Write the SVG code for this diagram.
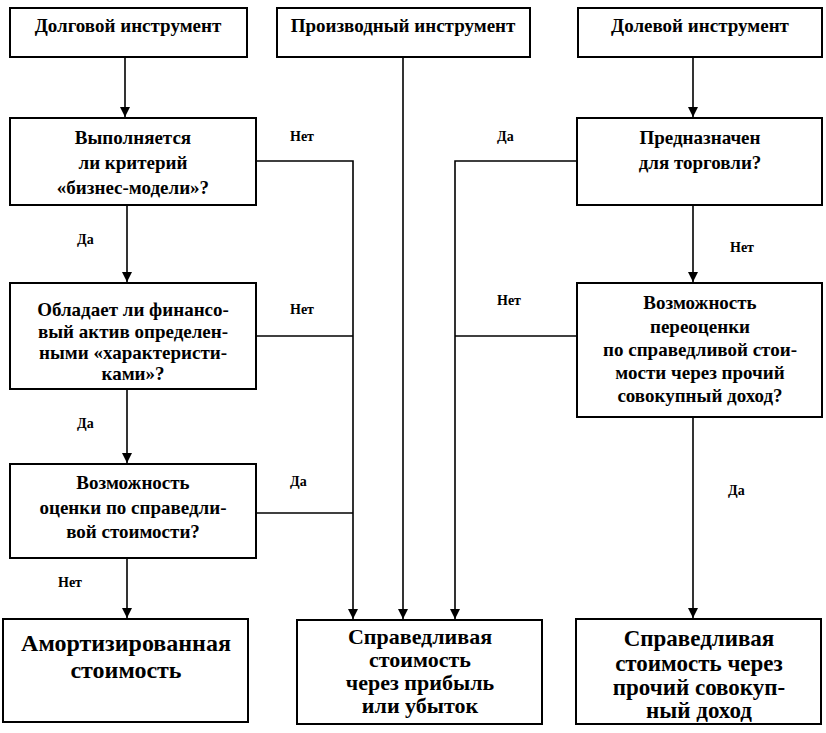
<svg xmlns="http://www.w3.org/2000/svg" width="826" height="733" viewBox="0 0 826 733">
<style>
.box{fill:#fff;stroke:#000;stroke-width:2}
</style>
<defs>
<marker id="ah" viewBox="0 0 10 10" refX="10" refY="5" markerWidth="10" markerHeight="10" markerUnits="userSpaceOnUse" orient="auto">
<path d="M0,0 L10,5 L0,10 z" fill="#000"/>
</marker>
</defs>
<rect width="826" height="733" fill="#fff"/>
<g id="connectors" fill="none" stroke="#000" stroke-width="1.6">
<line x1="125" y1="57" x2="125" y2="117" marker-end="url(#ah)"/>
<line x1="693" y1="57" x2="693" y2="117" marker-end="url(#ah)"/>
<line x1="403" y1="57" x2="403" y2="619" marker-end="url(#ah)"/>
<line x1="127" y1="205" x2="127" y2="282" marker-end="url(#ah)"/>
<line x1="127" y1="389" x2="127" y2="463" marker-end="url(#ah)"/>
<line x1="127" y1="558" x2="127" y2="618" marker-end="url(#ah)"/>
<line x1="693" y1="205" x2="693" y2="282" marker-end="url(#ah)"/>
<line x1="693" y1="417" x2="693" y2="618" marker-end="url(#ah)"/>
<polyline points="256,161 353,161 353,619" marker-end="url(#ah)"/>
<line x1="256" y1="336" x2="353" y2="336"/>
<line x1="256" y1="513" x2="353" y2="513"/>
<polyline points="577,161 455,161 455,619" marker-end="url(#ah)"/>
<line x1="577" y1="336" x2="455" y2="336"/>
</g>
<g id="connector-labels" fill="#000">
<text x="290" y="141" style="font-family:'Liberation Serif',serif;font-weight:700;font-size:14px">Нет</text>
<text x="77" y="244" style="font-family:'Liberation Serif',serif;font-weight:700;font-size:14px">Да</text>
<text x="290" y="314" style="font-family:'Liberation Serif',serif;font-weight:700;font-size:14px">Нет</text>
<text x="77" y="428" style="font-family:'Liberation Serif',serif;font-weight:700;font-size:14px">Да</text>
<text x="290" y="486" style="font-family:'Liberation Serif',serif;font-weight:700;font-size:14px">Да</text>
<text x="58" y="587" style="font-family:'Liberation Serif',serif;font-weight:700;font-size:14px">Нет</text>
<text x="497" y="141" style="font-family:'Liberation Serif',serif;font-weight:700;font-size:14px">Да</text>
<text x="730" y="252" style="font-family:'Liberation Serif',serif;font-weight:700;font-size:14px">Нет</text>
<text x="497" y="305" style="font-family:'Liberation Serif',serif;font-weight:700;font-size:14px">Нет</text>
<text x="728" y="495" style="font-family:'Liberation Serif',serif;font-weight:700;font-size:14px">Да</text>
</g>
<g id="debt" text-anchor="middle">
<rect class="box" x="10" y="8" width="237" height="49"/>
<text x="128" y="32" style="font-family:'Liberation Serif',serif;font-weight:700;font-size:19px">Долговой инструмент</text>
</g>
<g id="derivative" text-anchor="middle">
<rect class="box" x="277" y="8" width="253" height="49"/>
<text x="403" y="32" style="font-family:'Liberation Serif',serif;font-weight:700;font-size:19px">Производный инструмент</text>
</g>
<g id="equity" text-anchor="middle">
<rect class="box" x="578" y="8" width="244" height="49"/>
<text x="700" y="32" style="font-family:'Liberation Serif',serif;font-weight:700;font-size:19px">Долевой инструмент</text>
</g>
<g id="business-model" text-anchor="middle">
<rect class="box" x="10" y="118" width="246" height="87"/>
<text x="133" y="144" style="font-family:'Liberation Serif',serif;font-weight:700;font-size:19px">Выполняется</text>
<text x="133" y="169" style="font-family:'Liberation Serif',serif;font-weight:700;font-size:19px">ли критерий</text>
<text x="133" y="194" style="font-family:'Liberation Serif',serif;font-weight:700;font-size:19px">«бизнес-модели»?</text>
</g>
<g id="characteristics" text-anchor="middle">
<rect class="box" x="10" y="283" width="246" height="106"/>
<text x="133" y="316" style="font-family:'Liberation Serif',serif;font-weight:700;font-size:19px">Обладает ли финансо-</text>
<text x="133" y="338" style="font-family:'Liberation Serif',serif;font-weight:700;font-size:19px">вый актив определен-</text>
<text x="133" y="359" style="font-family:'Liberation Serif',serif;font-weight:700;font-size:19px">ными «характеристи-</text>
<text x="133" y="380" style="font-family:'Liberation Serif',serif;font-weight:700;font-size:19px">ками»?</text>
</g>
<g id="fv-measure" text-anchor="middle">
<rect class="box" x="10" y="464" width="246" height="94"/>
<text x="133" y="489" style="font-family:'Liberation Serif',serif;font-weight:700;font-size:19px">Возможность</text>
<text x="133" y="514" style="font-family:'Liberation Serif',serif;font-weight:700;font-size:19px">оценки по справедли-</text>
<text x="133" y="538" style="font-family:'Liberation Serif',serif;font-weight:700;font-size:19px">вой стоимости?</text>
</g>
<g id="trading" text-anchor="middle">
<rect class="box" x="577" y="118" width="245" height="87"/>
<text x="700" y="144" style="font-family:'Liberation Serif',serif;font-weight:700;font-size:19px">Предназначен</text>
<text x="700" y="169" style="font-family:'Liberation Serif',serif;font-weight:700;font-size:19px">для торговли?</text>
</g>
<g id="oci-option" text-anchor="middle">
<rect class="box" x="577" y="283" width="245" height="134"/>
<text x="700" y="309" style="font-family:'Liberation Serif',serif;font-weight:700;font-size:19px">Возможность</text>
<text x="700" y="333" style="font-family:'Liberation Serif',serif;font-weight:700;font-size:19px">переоценки</text>
<text x="700" y="356" style="font-family:'Liberation Serif',serif;font-weight:700;font-size:19px">по справедливой стои-</text>
<text x="700" y="379" style="font-family:'Liberation Serif',serif;font-weight:700;font-size:19px">мости через прочий</text>
<text x="700" y="402" style="font-family:'Liberation Serif',serif;font-weight:700;font-size:19px">совокупный доход?</text>
</g>
<g id="amortized" text-anchor="middle">
<rect class="box" x="3" y="619" width="245" height="103"/>
<text x="126" y="651" style="font-family:'Liberation Serif',serif;font-weight:700;font-size:24px">Амортизированная</text>
<text x="126" y="678" style="font-family:'Liberation Serif',serif;font-weight:700;font-size:24px">стоимость</text>
</g>
<g id="fvpl" text-anchor="middle">
<rect class="box" x="297" y="620" width="245" height="104"/>
<text x="420" y="644" style="font-family:'Liberation Serif',serif;font-weight:700;font-size:22px">Справедливая</text>
<text x="420" y="667" style="font-family:'Liberation Serif',serif;font-weight:700;font-size:22px">стоимость</text>
<text x="420" y="690" style="font-family:'Liberation Serif',serif;font-weight:700;font-size:22px">через прибыль</text>
<text x="420" y="713" style="font-family:'Liberation Serif',serif;font-weight:700;font-size:22px">или убыток</text>
</g>
<g id="fvoci" text-anchor="middle">
<rect class="box" x="576" y="619" width="245" height="105"/>
<text x="699" y="646" style="font-family:'Liberation Serif',serif;font-weight:700;font-size:23px">Справедливая</text>
<text x="699" y="671" style="font-family:'Liberation Serif',serif;font-weight:700;font-size:23px">стоимость через</text>
<text x="699" y="695" style="font-family:'Liberation Serif',serif;font-weight:700;font-size:23px">прочий совокуп-</text>
<text x="699" y="718" style="font-family:'Liberation Serif',serif;font-weight:700;font-size:23px">ный доход</text>
</g>
</svg>
